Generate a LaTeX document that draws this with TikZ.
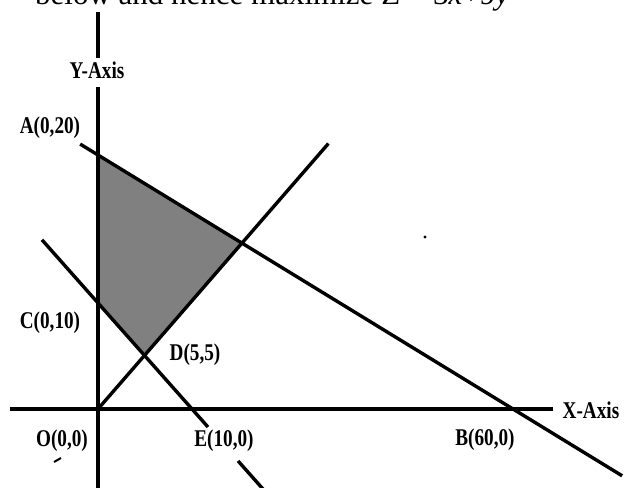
\documentclass[tikz,border=0pt]{standalone}
\usepackage{fontspec}
\setmainfont{Liberation Serif}
\newfontfamily\lblfont[FakeStretch=0.8]{Liberation Serif}
\usetikzlibrary{calc}

\begin{document}
\begin{tikzpicture}[x=1pt, y=1pt, line join=round]
  \tikzset{
    axisline/.style={line width=3.6pt},
    bound/.style={line width=3.4pt},
    lbl/.style={font=\lblfont\bfseries\fontsize{24}{26}\selectfont, inner sep=0pt},
  }
  % --- Frame (page is 631 x 487, O is the origin) ---
  \clip (-98,-78) rectangle (533,409);

  % --- Points (offsets from O) ---
  \coordinate (O) at (0,0);
  \coordinate (A) at (0,254);
  \coordinate (B) at (415,0);
  \coordinate (C) at (0,106);
  \coordinate (E) at (94,0);
  \coordinate (D) at (46,53);
  \coordinate (P) at (intersection of A--B and O--D);

  % --- Feasible region ACDP ---
  \fill[gray] (A) -- (P) -- (D) -- (C) -- cycle;

  % --- Axes ---
  \draw[axisline] (-88,0) -- (455,0);
  \draw[axisline] (0,322) -- (0,-80);
  \draw[axisline] (0,351) -- (0,397);

  % --- Constraint lines ---
  \draw[bound] ($(A)!-0.043!(B)$) -- ($(A)!1.263!(B)$);
  \draw[bound] ($(C)!-0.596!(E)$) -- ($(C)!1.17!(E)$);
  \draw[bound] ($(C)!1.49!(E)$) -- ($(C)!1.76!(E)$);
  \draw[bound] (O) -- ($(O)!1.6!(P)$);

  % --- Stray marks ---
  \fill (327,172) circle (1.6);
  \draw[line width=2pt] (-44,-53) -- (-37,-49);

  % --- Labels ---
  \node[lbl] (ylab) at (-1,339) {Y-Axis};
  \node[lbl] (xlab) at (493,-1) {X-Axis};
  \node[lbl] (Alab) at (-48,281) {A(0,20)};
  \node[lbl] (Clab) at (-48,86) {C(0,10)};
  \node[lbl] (Dlab) at (97,54) {D(5,5)};
  \node[lbl] (Olab) at (-36,-32) {O(0,0)};
  \node[lbl] (Elab) at (126,-32) {E(10,0)};
  \node[lbl] (Blab) at (387,-31) {B(60,0)};

  % --- Heading, cut off by the frame ---
  \node[anchor=base west, inner sep=0pt, font=\fontsize{31}{31}\selectfont] (head)
    at (-63,404) {below and hence maximize Z = 3\textit{x}+9\textit{y}};
\end{tikzpicture}
\end{document}
